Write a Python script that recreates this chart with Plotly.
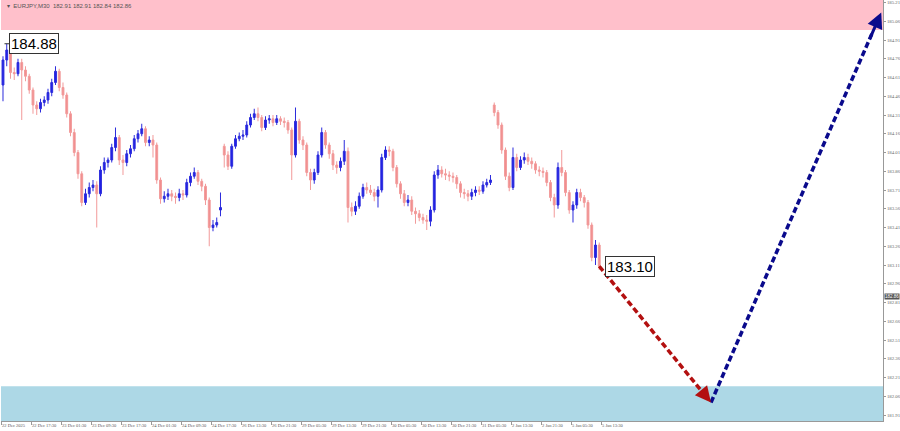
import plotly.graph_objects as go

# ---------------- data (EURJPY, M30-style bars) ----------------
bar_open = [184.55,184.75,184.83,184.65,184.64,184.73,184.67,184.62,184.51,184.39,
            184.36,184.41,184.43,184.49,184.57,184.66,184.53,184.47,184.32,184.17,
            184.01,183.84,183.61,183.68,183.73,183.75,183.68,183.87,183.93,183.95,
            184.05,184.13,183.95,183.93,184.00,184.04,184.12,184.16,184.20,184.09,
            184.11,184.07,183.79,183.64,183.66,183.68,183.66,183.65,183.68,183.67,
            183.77,183.82,183.85,183.78,183.74,183.63,183.41,183.43,183.55,184.06,
            183.99,183.90,184.06,184.12,184.14,184.15,184.23,184.29,184.32,184.29,
            184.21,184.27,184.28,184.25,184.28,184.26,184.25,184.19,183.99,184.26,
            184.11,184.07,183.85,183.79,183.85,183.99,184.17,184.07,184.00,183.91,
            183.89,183.94,184.02,183.57,183.54,183.58,183.66,183.73,183.71,183.69,
            183.66,183.71,183.97,184.03,184.02,183.89,183.76,183.68,183.61,183.63,
            183.54,183.52,183.49,183.47,183.46,183.55,183.83,183.87,183.84,183.83,
            183.82,183.81,183.76,183.69,183.68,183.66,183.69,183.71,183.70,183.75,
            183.77,184.39,184.33,184.23,184.03,183.82,183.73,183.97,183.89,183.95,
            183.97,183.94,183.92,183.87,183.86,183.85,183.77,183.65,183.59,183.89,
            183.85,183.69,183.55,183.59,183.69,183.65,183.61,183.43,183.17,183.27]
bar_high = [184.78,184.88,184.85,184.69,184.76,184.76,184.70,184.64,184.53,184.42,
            184.44,184.46,184.52,184.60,184.70,184.68,184.57,184.49,184.34,184.20,
            184.03,183.86,183.72,183.77,183.79,183.78,183.90,183.97,183.97,184.08,
            184.21,184.15,183.99,184.03,184.07,184.15,184.19,184.24,184.22,184.14,
            184.15,184.09,183.81,183.70,183.72,183.71,183.69,183.72,183.71,183.80,
            183.85,183.89,183.87,183.80,183.76,183.65,183.47,183.49,183.69,184.08,
            184.02,184.08,184.15,184.17,184.19,184.26,184.32,184.36,184.37,184.31,
            184.30,184.31,184.31,184.31,184.30,184.29,184.27,184.21,184.37,184.28,
            184.14,184.09,183.88,183.88,184.02,184.21,184.19,184.09,184.03,183.94,
            183.97,184.11,184.05,183.61,183.62,183.69,183.76,183.77,183.75,183.72,
            183.74,184.00,184.06,184.06,184.04,183.91,183.78,183.71,183.67,183.66,
            183.57,183.55,183.52,183.51,183.58,183.86,183.91,183.90,183.88,183.86,
            183.85,183.83,183.78,183.72,183.71,183.72,183.74,183.74,183.78,183.80,
            183.83,184.41,184.35,184.25,184.05,183.85,184.05,184.00,183.98,184.01,
            184.00,183.97,183.94,183.90,183.89,183.87,183.79,183.68,183.93,184.03,
            183.87,183.71,183.62,183.72,183.72,183.67,183.63,183.45,183.31,183.29]
bar_low = [184.42,184.70,184.60,184.59,184.62,184.27,184.58,184.48,184.32,184.31,
           184.33,184.38,184.40,184.46,184.55,184.50,184.44,184.29,184.14,183.98,
           183.80,183.58,183.59,183.65,183.70,183.41,183.66,183.84,183.89,183.93,
           184.02,183.91,183.83,183.90,183.97,184.02,184.09,184.14,184.06,184.06,
           183.97,183.76,183.60,183.61,183.63,183.62,183.60,183.62,183.63,183.65,
           183.74,183.80,183.75,183.70,183.59,183.26,183.38,183.41,183.50,183.89,
           183.87,183.88,184.04,184.10,184.11,184.13,184.21,184.27,184.26,184.18,
           184.19,184.24,184.22,184.23,184.23,184.21,184.16,183.79,183.97,184.08,
           184.03,183.82,183.71,183.76,183.83,183.97,184.04,183.96,183.87,183.84,
           183.86,183.91,183.45,183.50,183.51,183.56,183.64,183.68,183.67,183.62,
           183.57,183.69,183.95,183.98,183.86,183.73,183.64,183.58,183.58,183.51,
           183.44,183.46,183.44,183.39,183.42,183.53,183.80,183.81,183.79,183.78,
           183.77,183.72,183.65,183.64,183.62,183.63,183.66,183.67,183.68,183.73,
           183.75,184.30,184.20,184.00,183.79,183.70,183.71,183.86,183.87,183.92,
           183.91,183.88,183.84,183.82,183.81,183.74,183.62,183.49,183.56,183.82,
           183.66,183.52,183.45,183.56,183.62,183.57,183.40,183.14,183.11,183.07]
bar_close = [184.75,184.83,184.65,184.64,184.73,184.67,184.62,184.51,184.39,184.36,
             184.41,184.43,184.49,184.57,184.66,184.53,184.47,184.32,184.17,184.01,
             183.84,183.61,183.68,183.73,183.75,183.68,183.87,183.93,183.95,184.05,
             184.13,183.95,183.93,184.00,184.04,184.12,184.16,184.20,184.09,184.11,
             184.07,183.79,183.64,183.66,183.68,183.66,183.65,183.68,183.67,183.77,
             183.82,183.85,183.78,183.74,183.63,183.41,183.43,183.45,183.57,183.99,
             183.90,184.06,184.12,184.14,184.15,184.23,184.29,184.32,184.29,184.21,
             184.27,184.28,184.25,184.28,184.26,184.25,184.19,183.99,184.26,184.11,
             184.07,183.85,183.79,183.85,183.99,184.17,184.07,184.00,183.91,183.89,
             183.94,184.02,183.57,183.54,183.58,183.66,183.73,183.71,183.69,183.66,
             183.71,183.97,184.03,184.02,183.89,183.76,183.68,183.61,183.63,183.54,
             183.52,183.49,183.47,183.46,183.55,183.83,183.87,183.84,183.83,183.82,
             183.81,183.76,183.69,183.68,183.66,183.69,183.71,183.70,183.75,183.77,
             183.79,184.33,184.23,184.03,183.82,183.73,183.97,183.89,183.95,183.97,
             183.94,183.92,183.87,183.86,183.85,183.77,183.65,183.59,183.89,183.85,
             183.69,183.55,183.59,183.69,183.65,183.61,183.43,183.17,183.27,183.10]

time_labels = ["22 Dec 2025", "22 Dec 17:30", "23 Dec 01:30", "23 Dec 09:30", "23 Dec 17:30",
               "24 Dec 01:30", "24 Dec 09:30", "24 Dec 17:30", "26 Dec 13:30", "26 Dec 21:30",
               "29 Dec 05:30", "29 Dec 13:30", "29 Dec 21:30", "30 Dec 05:30", "30 Dec 13:30",
               "30 Dec 21:30", "31 Dec 05:30", "2 Jan 13:30", "2 Jan 21:30", "5 Jan 05:30",
               "5 Jan 13:30"]
bars_per_label = 8

price_ticks = [185.21, 185.06, 184.91, 184.76, 184.61, 184.46, 184.31, 184.16, 184.01,
               183.86, 183.71, 183.56, 183.41, 183.26, 183.11, 182.96, 182.81, 182.66,
               182.51, 182.36, 182.21, 182.06, 181.91]

# forecast wave path (bar index, price)
wave_x = [159, 188.8, 234.2]
wave_y = [183.10, 182.01, 185.13]

resistance_zone = [184.99, 185.30]
support_zone = [181.80, 182.14]

current_price = 182.86
header_text = "▾  EURJPY,M30  182.91 182.91 182.84 182.86"

# ---------------- figure ----------------
n = len(bar_close)
xs = list(range(n))
y_range = [181.862, 185.23]
x_range = [-0.53, 234.67]

fig = go.Figure()

fig.add_shape(type="rect", xref="paper", x0=0, x1=1, yref="y",
              y0=resistance_zone[0], y1=resistance_zone[1],
              fillcolor="#ffc0cb", line_width=0, layer="below")
fig.add_shape(type="rect", xref="paper", x0=0, x1=1, yref="y",
              y0=support_zone[0], y1=support_zone[1],
              fillcolor="#add8e6", line_width=0, layer="below")

fig.add_trace(go.Candlestick(
    x=xs, open=bar_open, high=bar_high, low=bar_low, close=bar_close,
    increasing=dict(line=dict(color="#2b2bdc", width=1), fillcolor="#1f1fe6"),
    decreasing=dict(line=dict(color="#f29a9a", width=1), fillcolor="#f08c8c"),
    whiskerwidth=0, showlegend=False, hoverinfo="skip"))

# forecast dashed legs
leg_colors = ["#b31010", "#0a0a8c"]
for k in range(2):
    x0, x1 = wave_x[k], wave_x[k + 1]
    y0, y1 = wave_y[k], wave_y[k + 1]
    fx = x0 + (x1 - x0) * 0.95
    fy = y0 + (y1 - y0) * 0.95
    fig.add_trace(go.Scatter(x=[x0, fx], y=[y0, fy], mode="lines",
                             line=dict(color=leg_colors[k], width=3.5, dash="6px,3px"),
                             showlegend=False, hoverinfo="skip"))
    fig.add_annotation(x=x1, y=y1, ax=x0 + (x1 - x0) * 0.93, ay=y0 + (y1 - y0) * 0.93,
                       xref="x", yref="y", axref="x", ayref="y", text="",
                       showarrow=True, arrowhead=2, arrowsize=1.05, arrowwidth=3,
                       arrowcolor=leg_colors[k])

# price labels
i_max = max(range(n), key=lambda i: bar_high[i])
fig.add_annotation(x=i_max + 0.6, y=bar_high[i_max], xref="x", yref="y",
                   text=f"{bar_high[i_max]:.2f}", showarrow=False,
                   xanchor="left", yanchor="middle",
                   font=dict(family="Liberation Sans, Arial", size=15, color="#000"),
                   bgcolor="#ffffff", bordercolor="#333", borderwidth=1, borderpad=1)
fig.add_trace(go.Scatter(x=[i_max - 0.6, i_max + 0.6], y=[bar_high[i_max]] * 2, mode="lines",
                         line=dict(color="#333", width=1), showlegend=False, hoverinfo="skip"))
fig.add_annotation(x=n - 1 + 1.6, y=bar_close[-1], xref="x", yref="y",
                   text=f"{bar_close[-1]:.2f}", showarrow=False,
                   xanchor="left", yanchor="middle",
                   font=dict(family="Liberation Sans, Arial", size=15, color="#000"),
                   bgcolor="#ffffff", bordercolor="#333", borderwidth=1, borderpad=1)

# current price box on axis
fig.add_annotation(x=1.0, y=current_price, xref="paper", yref="y",
                   text=f"{current_price:.2f}", showarrow=False, xanchor="left",
                   yanchor="middle", xshift=1,
                   font=dict(family="Liberation Sans", size=4.5, color="#fff"),
                   bgcolor="#555", borderpad=0)

# header
fig.add_annotation(x=0.004, y=0.997, xref="paper", yref="paper", text=header_text,
                   showarrow=False, xanchor="left", yanchor="top",
                   font=dict(family="Liberation Sans", size=6, color="#555"))

tickvals_x = [k * bars_per_label - 0.5 for k in range(len(time_labels))]

fig.update_layout(
    width=900, height=431,
    margin=dict(l=1, r=17, t=0, b=10, autoexpand=False),
    paper_bgcolor="#ffffff", plot_bgcolor="#ffffff",
    xaxis=dict(range=x_range, tickvals=tickvals_x, ticktext=time_labels,
               ticklabelposition="outside right", ticks="outside", ticklen=3,
               tickangle=0, automargin=False,
               tickcolor="#999", showgrid=False, zeroline=False,
               showline=True, linecolor="#999", mirror=False,
               rangeslider=dict(visible=False),
               tickfont=dict(family="Liberation Serif", size=4.5, color="#555")),
    yaxis=dict(range=y_range, side="right", tickvals=price_ticks,
               ticktext=[f"{v:.2f}" for v in price_ticks], automargin=False,
               ticks="outside", ticklen=2, tickcolor="#999", ticklabelstandoff=0,
               showgrid=False, zeroline=False, showline=True, linecolor="#999",
               tickfont=dict(family="Liberation Serif", size=4.8, color="#666")),
    showlegend=False,
)

fig.write_html("out.html", config={"displayModeBar": False},
               post_script="document.body.style.margin='0px';")
